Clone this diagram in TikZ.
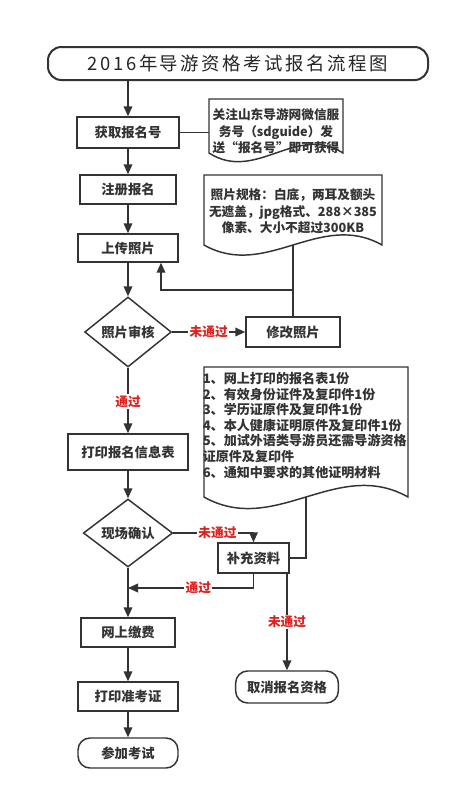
\documentclass[tikz,border=0pt]{standalone}
\usepackage{fontspec}
\setmainfont{Noto Sans CJK SC}
\usetikzlibrary{arrows.meta,shapes.geometric}
\definecolor{ln}{HTML}{333333}
\definecolor{rd}{HTML}{E0201E}
\tikzset{
  base/.style={draw=ln, line width=1.1pt, fill=white, text=ln, inner sep=0pt,
    font=\bfseries\fontsize{10}{12}\selectfont},
  box/.style={base},
  rbox/.style={base, rounded corners=9pt},
  dec/.style={base, shape=diamond},
  notetext/.style={text=ln, inner sep=0pt, font=\bfseries\fontsize{9.5}{12.4}\selectfont},
  lab/.style={text=rd, fill=white, inner sep=1pt, font=\bfseries\fontsize{9.5}{11}\selectfont},
  conn/.style={draw=ln, line width=1.1pt},
  arr/.style={conn, -{Triangle[length=7.5pt,width=6.5pt]}},
}
\begin{document}
\begin{tikzpicture}[x=0.75pt,y=-0.75pt]
\useasboundingbox (0,0) rectangle (460,800);
\fill[white] (0,0) rectangle (460,800);
% title
\node[base, rounded corners=10pt, line width=1.5pt, minimum width=285pt, minimum height=24.75pt,
  font=\fontsize{13.8}{16}\selectfont\addfontfeature{LetterSpace=14}, text=black!85] (title) at (238,63.5) {2016年导游资格考试报名流程图};
% main column
\node[box, minimum width=76.5pt, minimum height=23.25pt] (hq) at (128,132.5) {获取报名号};
\node[box, minimum width=72pt, minimum height=21.75pt] (zc) at (128,189.5) {注册报名};
\node[box, minimum width=75pt, minimum height=21pt] (sc) at (128,248) {上传照片};
\node[dec, minimum width=65pt, minimum height=52.5pt] (sh) at (128,332) {照片审核};
\node[box, minimum width=70.5pt, minimum height=22.5pt] (xg) at (293,332) {修改照片};
\node[box, minimum width=90pt, minimum height=27pt] (dy) at (128,452) {打印报名信息表};
\node[dec, minimum width=67pt, minimum height=51pt] (xc) at (128,533) {现场确认};
\node[box, minimum width=53pt, minimum height=22.5pt] (bc) at (253.5,558) {补充资料};
\node[box, minimum width=70.5pt, minimum height=21.75pt] (jf) at (128,632.5) {网上缴费};
\node[box, minimum width=75pt, minimum height=21.75pt] (zkz) at (128,696.5) {打印准考证};
\node[rbox, minimum width=75pt, minimum height=22.5pt] (ck) at (128,753) {参加考试};
\node[rbox, minimum width=77pt, minimum height=24pt] (qx) at (287,687) {取消报名资格};
% notes (document shapes)
\draw[conn, fill=white] (209,99) -- (343,99) -- (343,153)
  .. controls (296,123) and (256,183) .. (209,153) coordinate[pos=0.5] (n1b) -- cycle;
\coordinate (n1w) at (209,132.5);
\node[notetext, align=center] (t1) at (276,131.5) {关注山东导游网微信服\\务号（sdguide）发\\送“报名号”即可获得};
\draw[conn, fill=white] (204,175) -- (382,175) -- (382,245)
  .. controls (320,210) and (266,280) .. (204,245) coordinate[pos=0.5] (n2b) -- cycle;
\node[notetext, align=center] (t2) at (293,211.5) {照片规格：白底，两耳及额头\\无遮盖，jpg格式、288×385\\像素、大小不超过300KB};
\draw[conn, fill=white] (204,367) -- (408,367) -- (408,497)
  .. controls (337,457) and (275,537) .. (204,497) coordinate[pos=0.5] (n3b) -- cycle;
\node[notetext, align=left, anchor=north west, font=\bfseries\fontsize{9.8}{11.7}\selectfont] (t3) at (202.5,372) {1、网上打印的报名表1份\\2、有效身份证件及复印件1份\\3、学历证原件及复印件1份\\4、本人健康证明原件及复印件1份\\5、加试外语类导游员还需导游资格\\证原件及复印件\\6、通知中要求的其他证明材料};
% connectors
\draw[arr] (title.south -| hq.north) -- (hq.north);
\draw[conn] (hq.east) -- (n1w);
\draw[arr] (hq) -- (zc);
\draw[arr] (zc) -- (sc);
\draw[arr] (sc) -- (sh);
\coordinate (j1) at (293,290);
\coordinate (j2) at (161,290);
\draw[conn] (n2b) -- (j1);
\draw[conn] (xg.north) -- (j1);
\draw[arr] (j1) -- (j2) -- (j2 |- sc.south);
\draw[arr] (sh.east) -- node[lab, pos=0.5] (l1) {未通过} (xg.west);
\draw[arr] (sh.south) -- node[lab, pos=0.52] (l2) {通过} (dy.north);
\draw[arr] (dy) -- (xc);
\draw[arr] (xc.east) -- node[lab, pos=0.55] (l3) {未通过} (xc.east -| bc.north) -- (bc.north);
\draw[conn] (n3b) |- (bc.east);
\coordinate (m1) at (128,588);
\draw[arr] (bc.south) |- node[lab, pos=0.72] (l4) {通过} (m1);
\draw[arr] (xc.south) -- (jf.north);
\draw[arr] (bc.south -| qx.north) -- node[lab, pos=0.5] (l5) {未通过} (qx.north);
\draw[arr] (jf) -- (zkz);
\draw[arr] (zkz) -- (ck);
\end{tikzpicture}
\end{document}
